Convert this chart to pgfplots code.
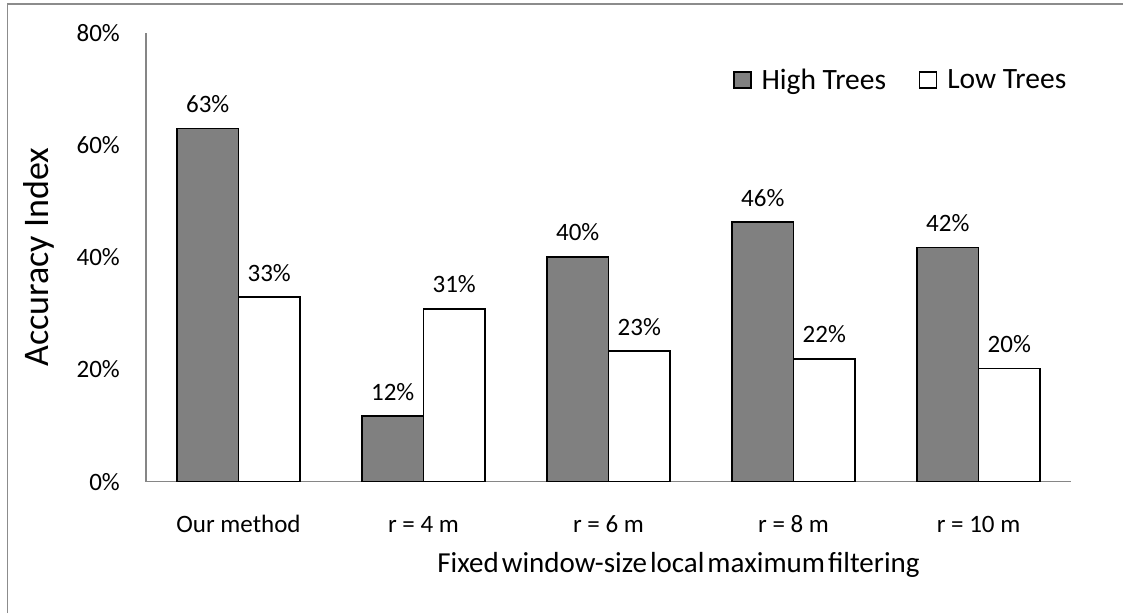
\documentclass[border=0pt]{standalone}
\usepackage{pgfplots}
\pgfplotsset{compat=1.18}
\usepackage{fontspec}
\setmainfont{Carlito}
\definecolor{barfill}{HTML}{808080}
\definecolor{axisgray}{HTML}{868686}
\definecolor{framegray}{HTML}{8C8C8C}

\begin{document}
\begin{tikzpicture}[x=1pt,y=1pt]
\useasboundingbox (0,0) rectangle (1123,613);
% chart area frame
\draw[framegray, line width=1.5pt] (7.5,0) -- (7.5,609) -- (1123,609);
\begin{axis}[
  at={(146pt,131.3pt)}, anchor=south west,
  scale only axis, width=925pt, height=448.7pt,
  xmin=-0.5, xmax=4.5, ymin=0, ymax=80,
  axis x line=bottom, axis y line=left,
  axis line style={-, draw=axisgray, line width=1.4pt},
  major tick length=0pt,
  xtick={0,...,4},
  xticklabels={Our method, r = 4 m, r = 6 m, r = 8 m, r = 10 m},
  ytick={0,20,40,60,80},
  yticklabel={\pgfmathprintnumber{\tick}\%},
  /pgf/number format/assume math mode=true,
  ticklabel style={font=\fontsize{25}{29}\selectfont, inner sep=0pt, text=black},
  yticklabel style={anchor=east, xshift=-26pt},
  xticklabel style={anchor=base, yshift=-50.3pt},
  ybar=0pt, bar width=61.5pt,
  nodes near coords={\pgfmathprintnumber[fixed,precision=0]{\pgfplotspointmeta}\%},
  every node near coord/.append style={font=\fontsize{25}{29}\selectfont,
    anchor=base, inner sep=0pt, yshift=16pt, text=black},
  xlabel={\spaceskip=3pt\relax Fixed window-size local maximum filtering},
  xlabel style={at={(axis description cs:0.5757,0)}, anchor=base,
    yshift=-91pt, inner sep=0pt, font=\fontsize{29}{34}\selectfont},
  ylabel={Accuracy Index},
  ylabel style={at={(axis description cs:-0.1157,0.5)}, anchor=center,
    inner sep=0pt, font=\fontsize{36}{41}\selectfont},
  legend columns=2,
  legend style={at={(axis description cs:0.6346,0.8953)}, anchor=west,
    draw=none, fill=none, inner sep=0pt,
    font=\fontsize{29.5}{34}\selectfont,
    nodes={inner sep=0pt},
    /tikz/every odd column/.append style={column sep=10pt},
    /tikz/every even column/.append style={column sep=33pt}},
  legend image code/.code={\draw[#1, line width=1.3pt] (0pt,-8pt) rectangle (17pt,8pt);},
]
% High Trees
\addplot[fill=barfill, draw=black, line width=1.5pt]
  coordinates {(0,63.0) (1,11.7) (2,40.1) (3,46.3) (4,41.8)};
% Low Trees
\addplot[fill=white, draw=black, line width=1.5pt]
  coordinates {(0,32.9) (1,30.8) (2,23.3) (3,21.9) (4,20.2)};
\legend{High Trees, Low Trees}
\end{axis}
\end{tikzpicture}
\end{document}
